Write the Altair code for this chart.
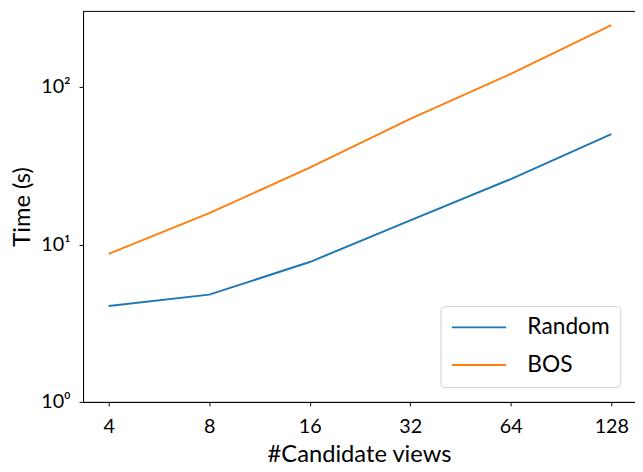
import altair as alt
import pandas as pd

views = [4, 8, 16, 32, 64, 128]
random_time = [4.07, 4.80, 7.73, 14.2, 26.0, 50.2]
bos_time = [8.72, 15.8, 30.7, 62.7, 121, 247]
series = ["Random", "BOS"]
colors = ["#1f77b4", "#ff7f0e"]

rows = []
for v, r, b in zip(views, random_time, bos_time):
    rows.append({"views": v, "time": r, "method": "Random"})
    rows.append({"views": v, "time": b, "method": "BOS"})
df = pd.DataFrame(rows)

FONT = "Lato"

chart = alt.Chart(df).mark_line(strokeWidth=2).encode(
    x=alt.X(
        "views:Q",
        scale=alt.Scale(type="log", base=2, domain=[3.352, 150.7], nice=False, zero=False),
        axis=alt.Axis(
            values=views,
            format="d",
            title="#Candidate views",
            grid=False,
            tickSize=4,
            labelPadding=11,
            titlePadding=6,
        ),
    ),
    y=alt.Y(
        "time:Q",
        scale=alt.Scale(type="log", domain=[1, 304], nice=False),
        axis=alt.Axis(
            values=[1, 10, 100],
            labelExpr="datum.value == 1 ? '10⁰' : (datum.value == 10 ? '10¹' : '10²')",
            title="Time (s)",
            grid=False,
            tickSize=4,
            labelPadding=9,
            titlePadding=6,
            labelBaseline="middle",
        ),
    ),
    color=alt.Color(
        "method:N",
        scale=alt.Scale(domain=series, range=colors),
        sort=series,
        legend=alt.Legend(
            title=None,
            orient="none",
            legendX=362,
            legendY=299,
            symbolType="M-1,0H4.5",
            symbolSize=400,
            symbolStrokeWidth=2,
            labelFontSize=23,
            labelFont=FONT,
            labelColor="black",
            labelOffset=55,
            rowPadding=14,
            padding=10,
            fillColor="white",
            strokeColor="#d0d0d0",
            cornerRadius=4,
        ),
    ),
    order=alt.Order("views:Q"),
).properties(
    width=559,
    height=396,
    autosize=alt.AutoSizeParams(type="none"),
    padding={"left": 76, "top": 0, "right": 0, "bottom": 66},
).configure_view(
    stroke="black", strokeWidth=1
).configure_axis(
    domainColor="black",
    tickColor="black",
    labelColor="black",
    titleColor="black",
    labelFont=FONT,
    titleFont=FONT,
    labelFontSize=20,
    titleFontSize=24,
    titleFontWeight="normal",
    domainWidth=1,
    tickWidth=1,
)

chart.save("out.html", embed_options={"renderer": "svg", "actions": False})
